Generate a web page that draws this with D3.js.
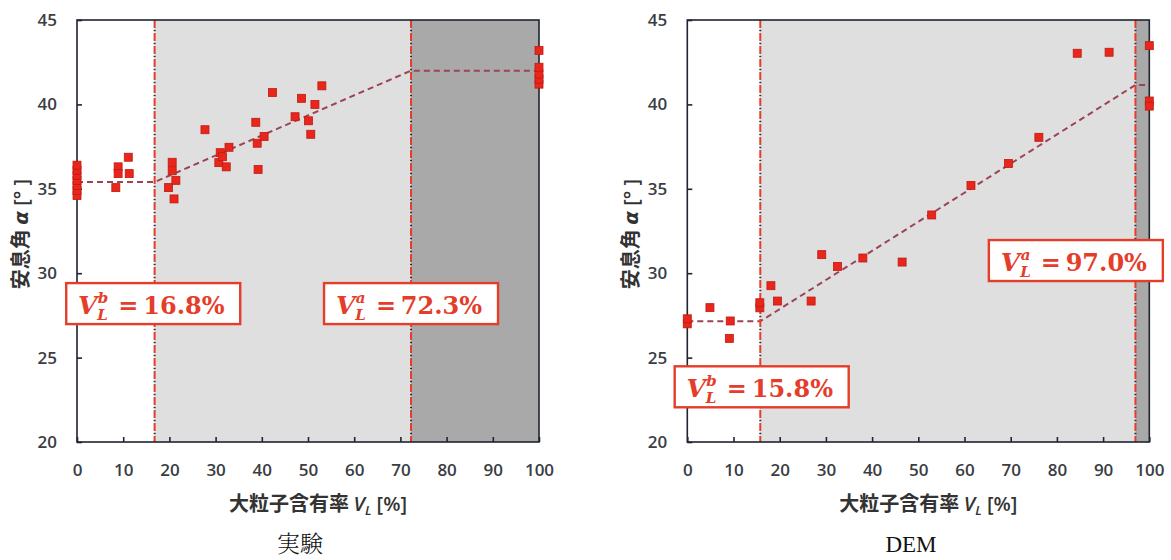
<!DOCTYPE html>
<html>
<head>
<meta charset="utf-8">
<script src="https://cdn.jsdelivr.net/npm/d3@7"></script>
<style>
  body { margin: 0; background: #fff; }
  svg { display: block; }
</style>
</head>
<body>
<svg id="chart" width="1171" height="560"></svg>
<script>
// Large-particle content V_L [%] and angle of repose α [°] — experiment
const expV = [0, 0, 0, 0, 0, 0, 0, 8.4, 8.9, 8.9, 11.1, 11.3, 19.8, 20.6, 20.6, 21.4, 21.0,
  27.7, 30.7, 31.0, 31.5, 32.3, 32.9, 38.7, 39.0, 39.2, 40.5, 42.3, 47.2, 48.6, 50.1, 50.6,
  51.5, 53.0, 100, 100, 100, 100, 100];
const expAlpha = [34.6, 34.9, 35.2, 35.5, 35.8, 36.1, 36.4, 35.07, 36.3, 35.9, 36.87, 35.9, 35.07,
  36.57, 36.07, 35.5, 34.4, 38.5, 36.55, 37.14, 36.9, 36.3, 37.46, 38.94, 37.7, 36.15, 38.1,
  40.7, 39.27, 40.36, 39.03, 38.23, 40.0, 41.1, 41.2, 41.5, 41.8, 42.2, 43.2];

// Same quantities — DEM simulation
const demV = [0, 0, 4.9, 9.3, 9.1, 15.7, 15.7, 18.1, 19.5, 26.8, 29.1, 32.5, 38.0, 46.5, 52.9,
  61.4, 69.5, 76.1, 84.4, 91.3, 100, 100, 100];
const demAlpha = [27.0, 27.3, 27.96, 27.17, 26.14, 27.95, 28.25, 29.26, 28.35, 28.35, 31.1, 30.4,
  30.9, 30.66, 33.45, 35.2, 36.5, 38.05, 43.03, 43.09, 43.48, 40.2, 39.9];

// Bilinear fit: lower plateau, linear rise, upper plateau
const expBreaks = [16.8, 72.3];
const expLevels = [35.4, 42.0];
const demBreaks = [15.8, 97.0];
const demLevels = [27.15, 41.15];

const xTicks = [0, 10, 20, 30, 40, 50, 60, 70, 80, 90, 100];
const yTicks = [20, 25, 30, 35, 40, 45];
const captions = ["実験", "DEM"];

// Breakpoint labels: [superscript, value, anchor V_L, anchor α]
const expLabels = [["b", "16.8", 16.5, 28.2], ["a", "72.3", 72.3, 28.2]];
const demLabels = [["b", "15.8", 16.1, 23.27], ["a", "97.0", 84.1, 30.75]];

const RED = "#e43d2a";
const svg = d3.select("#chart");

const panels = [
  { left: 77, right: 539, V: expV, A: expAlpha, breaks: expBreaks, levels: expLevels,
    labels: expLabels, caption: captions[0], captionX: 300 },
  { left: 687.3, right: 1149.3, V: demV, A: demAlpha, breaks: demBreaks, levels: demLevels,
    labels: demLabels, caption: captions[1], captionX: 911 }
];
const plotTop = 20, plotBottom = 442;

panels.forEach(p => {
  const x = d3.scaleLinear().domain([0, 100]).range([p.left, p.right]);
  const y = d3.scaleLinear().domain([20, 45]).range([plotBottom, plotTop]);
  const g = svg.append("g");

  // regime shading
  g.append("rect").attr("x", x(p.breaks[0])).attr("y", plotTop)
    .attr("width", x(p.breaks[1]) - x(p.breaks[0])).attr("height", plotBottom - plotTop)
    .attr("fill", "#dfdfdf");
  g.append("rect").attr("x", x(p.breaks[1])).attr("y", plotTop)
    .attr("width", x(100) - x(p.breaks[1])).attr("height", plotBottom - plotTop)
    .attr("fill", "#a9a9a9");

  // trend line
  const trend = [[0, p.levels[0]], [p.breaks[0], p.levels[0]], [p.breaks[1], p.levels[1]], [100, p.levels[1]]];
  const line = d3.line().x(d => x(d[0])).y(d => y(d[1]));
  g.append("path").attr("d", line(trend)).attr("fill", "none")
    .attr("stroke", "#9c4456").attr("stroke-width", 2).attr("stroke-dasharray", "6,4");

  // breakpoint markers (dash-dot verticals)
  p.breaks.forEach(b => {
    g.append("line").attr("x1", x(b)).attr("x2", x(b)).attr("y1", plotTop).attr("y2", plotBottom)
      .attr("stroke", RED).attr("stroke-width", 2).attr("stroke-dasharray", "8,5");
    g.append("line").attr("x1", x(b)).attr("x2", x(b)).attr("y1", plotTop).attr("y2", plotBottom)
      .attr("stroke", "#2a2f45").attr("stroke-width", 2).attr("stroke-dasharray", "1.5,11.5")
      .attr("stroke-dashoffset", -9.7);
  });

  // frame
  g.append("rect").attr("x", p.left).attr("y", plotTop)
    .attr("width", p.right - p.left).attr("height", plotBottom - plotTop)
    .attr("fill", "none").attr("stroke", "#1f2430").attr("stroke-width", 1.6);

  // axes with inward ticks
  const xa = g.append("g").attr("transform", `translate(0,${plotBottom})`)
    .call(d3.axisBottom(x).tickValues(xTicks).tickSizeInner(-5).tickSizeOuter(0).tickPadding(22));
  const ya = g.append("g").attr("transform", `translate(${p.left},0)`)
    .call(d3.axisLeft(y).tickValues(yTicks).tickSizeInner(-5).tickSizeOuter(0).tickPadding(20));
  [xa, ya].forEach(a => {
    a.select(".domain").remove();
    a.selectAll(".tick line").attr("stroke", "#1f2430").attr("stroke-width", 1.6);
    a.selectAll(".tick text").attr("fill", "#3a3d42")
      .style("font-family", "'Open Sans', sans-serif").style("font-weight", 600).style("font-size", "17px");
  });

  // data points
  g.append("g").selectAll("rect").data(p.V.map((v, i) => [v, p.A[i]])).join("rect")
    .attr("x", d => x(d[0]) - 4).attr("y", d => y(d[1]) - 4)
    .attr("width", 8).attr("height", 8)
    .attr("fill", "#e8261b").attr("stroke", "#c01a12").attr("stroke-width", 0.8);

  // axis titles
  const xt = g.append("text").attr("x", (p.left + p.right) / 2 + 10).attr("y", 511)
    .attr("text-anchor", "middle").attr("fill", "#333")
    .style("font-family", "'Noto Sans CJK JP', sans-serif").style("font-weight", 700).style("font-size", "20px");
  xt.append("tspan").text("大粒子含有率 ");
  xt.append("tspan").text("V").style("font-style", "italic").style("font-family", "'Open Sans', sans-serif").style("font-weight", 600);
  xt.append("tspan").text("L").attr("dy", 4).style("font-size", "13px").style("font-style", "italic")
    .style("font-family", "'Open Sans', sans-serif").style("font-weight", 600);
  xt.append("tspan").text(" [%]").attr("dy", -4).style("font-family", "'Open Sans', sans-serif").style("font-weight", 600);

  const ytx = p.left - 56, yty = 234;
  const yt = g.append("text").attr("transform", `translate(${ytx},${yty}) rotate(-90)`)
    .attr("text-anchor", "middle").attr("dy", "0.35em").attr("fill", "#333")
    .style("font-family", "'Noto Sans CJK JP', sans-serif").style("font-weight", 700).style("font-size", "20px");
  yt.append("tspan").text("安息角 ");
  yt.append("tspan").text("α").style("font-style", "italic").style("font-family", "'DejaVu Sans', sans-serif");
  yt.append("tspan").text(" [° ]").style("font-family", "'Open Sans', sans-serif").style("font-weight", 600);

  // caption
  g.append("text").attr("x", p.captionX).attr("y", 552).attr("text-anchor", "middle")
    .attr("fill", "#111")
    .style("font-family", "'Liberation Serif', 'Noto Serif CJK JP', 'Noto Sans CJK JP', serif")
    .style("font-size", "23px").style("font-weight", p.caption === "DEM" ? 400 : 300)
    .text(p.caption);

  // breakpoint labels: V with stacked super/subscript, then "= value%"
  p.labels.forEach(([sup, val, lv, la]) => {
    const cx = x(lv), cy = y(la);
    g.append("rect").attr("width", 174).attr("height", 41)
      .attr("x", cx - 87).attr("y", cy - 20.5)
      .attr("fill", "#fff").attr("stroke", RED).attr("stroke-width", 2.4);
    const serif = "'DejaVu Serif', serif";
    const t = g.append("text").attr("fill", RED)
      .style("font-family", serif).style("font-weight", 700);
    const tV = t.append("tspan").text("V").attr("x", 0).attr("y", 0)
      .style("font-style", "italic").style("font-size", "25px");
    const wV = tV.node().getComputedTextLength();
    const tSup = t.append("tspan").text(sup).attr("x", wV + 0.5).attr("y", -11)
      .style("font-style", "italic").style("font-size", "15px");
    const tSub = t.append("tspan").text("L").attr("x", wV).attr("y", 6.5)
      .style("font-style", "italic").style("font-size", "15px");
    const wS = Math.max(wV + 0.5 + tSup.node().getComputedTextLength(),
                        wV + tSub.node().getComputedTextLength());
    const tRest = t.append("tspan").text("=\u2009" + val + "%").attr("x", wS + 10).attr("y", 0)
      .style("font-size", "24px");
    const total = wS + 10 + tRest.node().getComputedTextLength();
    t.attr("transform", `translate(${cx - total / 2 - 2},${cy + 10})`);
  });
});
</script>
</body>
</html>
